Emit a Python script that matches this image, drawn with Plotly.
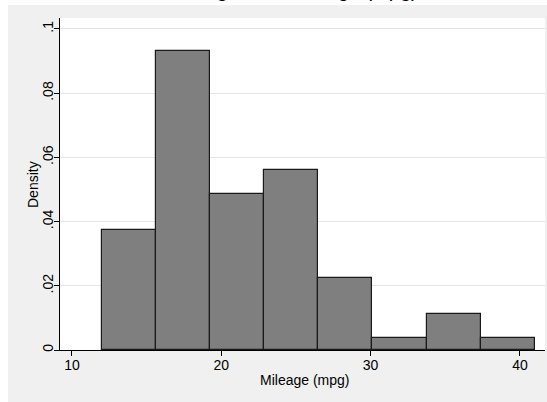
import plotly.graph_objects as go

# Data: histogram of mpg (auto dataset), 8 bins
bin_edges = [12.0, 15.625, 19.25, 22.875, 26.5, 30.125, 33.75, 37.375, 41.0]
density = [0.03728, 0.09320, 0.04846, 0.05592, 0.02237, 0.00373, 0.01118, 0.00373]

y_tickvals = [0, 0.02, 0.04, 0.06, 0.08, 0.1]
y_ticktext = ["0", ".02", ".04", ".06", ".08", ".1"]
x_tickvals = [10, 20, 30, 40]
x_ticktext = ["10", "20", "30", "40"]

title_text = "Histogram of Mileage (mpg)"
x_title = "Mileage (mpg)"
y_title = "Density"

centers = [(a + b) / 2 for a, b in zip(bin_edges[:-1], bin_edges[1:])]
widths = [b - a for a, b in zip(bin_edges[:-1], bin_edges[1:])]

FONT = "Liberation Sans, Arial, Helvetica, sans-serif"
BG = "#eff0ef"

# plot area in page pixels: x 60..545, y 18..350
L, R, T, B = 60, 545, 18, 350
PW, PH = R - L, B - T

def px_x(p):
    return (p - L) / PW

def px_y(p):
    return (B - p) / PH

fig = go.Figure()
fig.add_trace(go.Bar(
    x=centers, y=density, width=widths,
    marker=dict(color="#7f7f7f", line=dict(color="#1a1a1a", width=1.2)),
    hoverinfo="x+y",
))

fig.update_layout(
    width=547, height=402,
    margin=dict(l=L, r=547 - R, t=T, b=402 - B, pad=0),
    paper_bgcolor=BG, plot_bgcolor="white",
    showlegend=False,
    font=dict(family=FONT, size=14, color="black"),
    bargap=0,
    xaxis=dict(
        range=[9.2, 41.68], tickvals=x_tickvals, ticktext=x_ticktext,
        automargin=False,
        showgrid=False, zeroline=False, showline=True, linecolor="black", linewidth=1,
        ticks="outside", ticklen=5, tickcolor="black", tickwidth=1,
        tickfont=dict(size=14), ticklabelstandoff=-3,
    ),
    yaxis=dict(
        range=[0, 0.1034], tickvals=y_tickvals, ticktext=y_ticktext,
        automargin=False,
        showgrid=True, gridcolor="#e4e4e4", gridwidth=1,
        zeroline=False, showline=True, linecolor="black", linewidth=1,
        ticks="outside", ticklen=5, tickcolor="black", tickwidth=1,
        tickangle=-90, tickfont=dict(size=14), ticklabelstandoff=-5,
    ),
    shapes=[
        dict(type="rect", xref="paper", yref="paper",
             x0=-0.3, x1=px_x(8), y0=-0.3, y1=1.3,
             fillcolor="white", line=dict(width=0), layer="below"),
        dict(type="rect", xref="paper", yref="paper",
             x0=-0.3, x1=1.1, y0=px_y(5), y1=1.3,
             fillcolor="white", line=dict(width=0), layer="below"),
    ],
    annotations=[
        dict(text=title_text, xref="paper", yref="paper",
             x=px_x(294), y=px_y(1.5),
             xanchor="center", yanchor="bottom", showarrow=False,
             font=dict(size=20, color="black"), borderpad=0),
        dict(text=y_title, xref="paper", yref="paper",
             x=px_x(33), y=px_y(185), textangle=-90,
             xanchor="center", yanchor="middle", showarrow=False,
             font=dict(size=14, color="black"), borderpad=0),
        dict(text=x_title, xref="paper", yref="paper",
             x=px_x(304), y=px_y(380),
             xanchor="center", yanchor="middle", showarrow=False,
             font=dict(size=14, color="black"), borderpad=0),
    ],
)

fig.write_html("out.html", config={"displayModeBar": False},
               post_script="document.body.style.margin='0';")
